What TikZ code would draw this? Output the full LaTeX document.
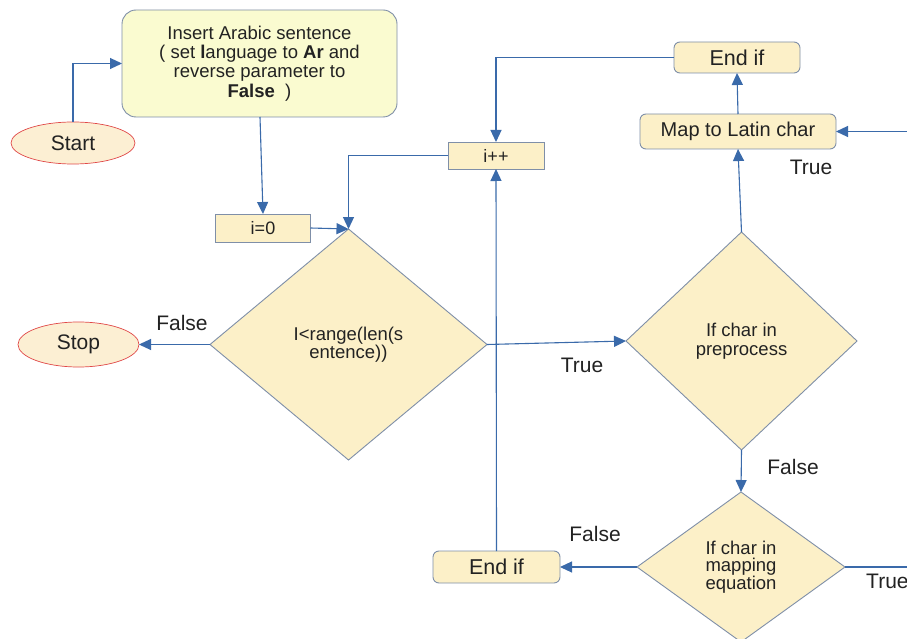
\documentclass[tikz,border=0pt]{standalone}
\usepackage{fontspec}
\setmainfont{Liberation Sans}
\usetikzlibrary{shapes.geometric,arrows.meta}
\definecolor{linec}{HTML}{3A6AAA}
\definecolor{bordc}{HTML}{7F8FA8}
\definecolor{boxfill}{HTML}{FCF0C8}
\definecolor{greenfill}{HTML}{FAFBD0}
\definecolor{ovalfill}{HTML}{FCEFD3}
\definecolor{ovalbord}{HTML}{E04848}
\definecolor{textc}{HTML}{222222}
\tikzset{
  conn/.style={draw=linec, line width=1.1pt, -{Triangle[length=12pt,width=11pt]}},
  plain/.style={draw=linec, line width=1.1pt},
  oval/.style={ellipse, draw=ovalbord, fill=ovalfill, line width=0.7pt, inner sep=0pt, outer sep=0pt, font=\fontsize{21}{24}\selectfont, text=textc},
  rbox/.style={rectangle, rounded corners=6pt, draw=bordc, fill=boxfill, line width=0.9pt, inner sep=0pt, outer sep=0pt, text=textc},
  sbox/.style={rectangle, draw=bordc, fill=boxfill, line width=0.9pt, inner sep=0pt, outer sep=0pt, font=\fontsize{18}{20}\selectfont, text=textc},
  dia/.style={diamond, draw=bordc, fill=boxfill, line width=0.9pt, inner sep=0pt, outer sep=0pt, align=center, text=textc, font=\fontsize{18.5}{18.5}\selectfont},
  lbl/.style={font=\fontsize{21}{24}\selectfont, text=textc, inner sep=0pt}
}
\begin{document}
\begin{tikzpicture}[x=1pt,y=-1pt]
\useasboundingbox (0,0) rectangle (907,639);
\clip (0,0) rectangle (907,639);
\fill[white] (0,0) rectangle (907,639);
% nodes
\node[oval, minimum width=124pt, minimum height=42pt] (start) at (73,143) {Start};
\node[rbox, fill=greenfill, rounded corners=14pt, minimum width=275pt, minimum height=107pt, align=center, font=\fontsize{18.5}{19.3}\selectfont] (ins) at (259.5,63.5) {Insert Arabic sentence\\ ( set \textbf{l}anguage to \textbf{Ar} and\\ reverse parameter to\\ \textbf{False}\ \ )};
\node[sbox, minimum width=95pt, minimum height=28pt] (i0) at (263,228) {i=0};
\node[dia, minimum width=277pt, minimum height=231pt] (d1) at (348.5,344.5) {I<range(len(s\\ entence))};
\node[oval, minimum width=121pt, minimum height=45pt] (stop) at (78.5,344.5) {Stop};
\node[sbox, minimum width=96pt, minimum height=27pt] (ipp) at (496,155.5) {i++};
\node[rbox, minimum width=126pt, minimum height=31pt, font=\fontsize{21.5}{24}\selectfont] (end1) at (737,57.5) {End if};
\node[rbox, minimum width=196pt, minimum height=35pt, font=\fontsize{20}{23}\selectfont] (map) at (738,131.5) {Map to Latin char};
\node[dia, minimum width=231pt, minimum height=218pt] (d2) at (741.5,341) {If char in\\ preprocess};
\node[dia, minimum width=208pt, minimum height=150pt, font=\fontsize{18.5}{17.5}\selectfont] (d3) at (741,567) {If char in\\ mapping\\ equation};
\node[rbox, minimum width=127pt, minimum height=32pt, font=\fontsize{21.5}{24}\selectfont] (end2) at (496.5,567) {End if};
\coordinate (rin) at (907,131.5);
\coordinate (rout) at (907,567);
% connectors
\draw[conn] (start.north) |- (ins.west);
\draw[conn] (260,117) -- (i0.north);
\draw[conn] (i0.east) -- (d1.north);
\draw[conn] (ipp.west) -| (d1.north);
\draw[conn] (d1.west) -- (stop.east);
\draw[conn] (d1.east) -- (d2.west);
\draw[conn] (end1.west) -| (ipp.north);
\draw[conn] (map.north) -- (end1.south);
\draw[conn] (d2.north) -- (map.south);
\draw[conn] (rin) -- (map.east);
\draw[conn] (d2.south) -- (d3.north);
\draw[conn] (d3.west) -- (end2.east);
\draw[conn] (end2.north) -- (ipp.south);
\draw[plain] (d3.east) -- (rout);
% labels
\node[lbl] (lf1) at (182,323) {False};
\node[lbl] (lt1) at (582,365) {True};
\node[lbl] (lt2) at (811,167) {True};
\node[lbl] (lf2) at (793,467) {False};
\node[lbl] (lf3) at (595,534) {False};
\node[lbl, anchor=west] (lt3) at (866,581) {True};
\end{tikzpicture}
\end{document}
